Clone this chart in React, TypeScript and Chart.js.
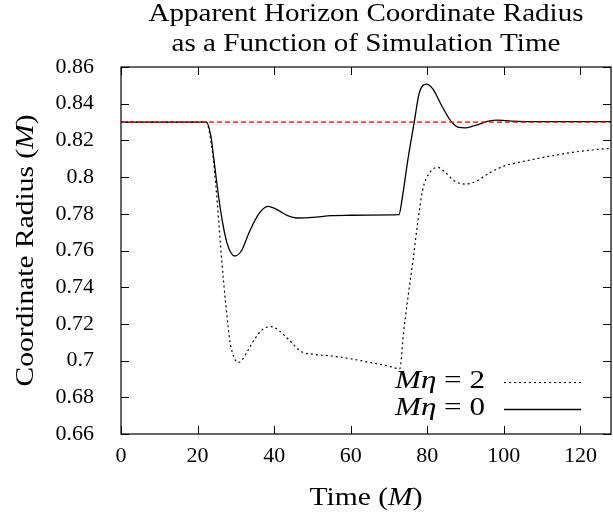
import React, { useEffect, useRef } from "react";
import { Chart, registerables } from "chart.js";

Chart.register(...registerables);

// ---- data ----
const TIME_ETA0 = [0, 22.3, 23.5, 24.3, 26, 27.7, 29.7, 31.5, 33.5, 36, 38.4, 41, 43.5, 46, 50, 55, 60, 65, 72.6, 73.5, 74.9, 76.6, 77.9, 79.8, 81.5, 83.5, 86, 88, 90, 93, 96, 98.5, 102, 110, 120, 128];
const RADIUS_ETA0 = [0.83, 0.83, 0.822, 0.809, 0.782, 0.764, 0.757, 0.76, 0.77, 0.78, 0.784, 0.782, 0.779, 0.7777, 0.778, 0.779, 0.7792, 0.7793, 0.7795, 0.789, 0.809, 0.83, 0.8457, 0.8507, 0.848, 0.84, 0.831, 0.8272, 0.8268, 0.8285, 0.8305, 0.831, 0.8305, 0.8302, 0.8302, 0.8302];

const TIME_ETA2 = [0, 22.3, 23.3, 24.2, 25.2, 26.3, 27.4, 28.5, 29.5, 30.5, 31.5, 33, 35, 37, 39.3, 41.5, 44, 47, 50, 55, 60, 65, 70, 72.8, 73.8, 75, 76.3, 77.5, 78.8, 80.5, 82.7, 84.5, 87, 90, 93, 96, 100, 105, 111, 118, 124, 128];
const RADIUS_ETA2 = [0.83, 0.83, 0.822, 0.808, 0.785, 0.755, 0.73, 0.71, 0.702, 0.699, 0.7, 0.705, 0.712, 0.717, 0.7185, 0.716, 0.711, 0.705, 0.7035, 0.7025, 0.701, 0.699, 0.697, 0.6955, 0.715, 0.735, 0.755, 0.775, 0.793, 0.802, 0.8053, 0.803, 0.798, 0.7962, 0.798, 0.802, 0.806, 0.8085, 0.811, 0.8135, 0.815, 0.8157];

const REFERENCE_RADIUS = 0.83;
const X_MIN = 0;
const X_MAX = 128;
const Y_MIN = 0.66;
const Y_MAX = 0.86;
const X_TICKS = [0, 20, 40, 60, 80, 100, 120];
const Y_TICKS = [0.66, 0.68, 0.7, 0.72, 0.74, 0.76, 0.78, 0.8, 0.82, 0.84, 0.86];
const TITLE_LINES = ["Apparent Horizon Coordinate Radius", "as a Function of Simulation Time"];
const LEGEND_ETA2 = "2";
const LEGEND_ETA0 = "0";

const FAMILY = "'Liberation Serif', 'DejaVu Serif', serif";

type Part = { t: string; i?: boolean };

function measureRich(ctx: CanvasRenderingContext2D, parts: Part[], size: number) {
  return parts.map((p) => {
    ctx.font = `${p.i ? "italic " : ""}${size}px ${FAMILY}`;
    return ctx.measureText(p.t).width;
  });
}

// draws text on an alphabetic baseline; k = horizontal stretch
function drawRich(ctx: CanvasRenderingContext2D, parts: Part[], x: number, y: number, align: string, size: number, k = 1) {
  const widths = measureRich(ctx, parts, size);
  const total = widths.reduce((a, b) => a + b, 0) * k;
  const sx = align === "center" ? x - total / 2 : align === "right" ? x - total : x;
  ctx.save();
  ctx.translate(sx, y);
  ctx.scale(k, 1);
  ctx.textBaseline = "alphabetic";
  ctx.textAlign = "left";
  ctx.fillStyle = "#000";
  let cx = 0;
  parts.forEach((p, j) => {
    ctx.font = `${p.i ? "italic " : ""}${size}px ${FAMILY}`;
    ctx.fillText(p.t, cx, 0);
    cx += widths[j];
  });
  ctx.restore();
}

function stretchFor(ctx: CanvasRenderingContext2D, parts: Part[], size: number, target: number) {
  const w = measureRich(ctx, parts, size).reduce((a, b) => a + b, 0);
  return w > 0 ? target / w : 1;
}

const decorPlugin = {
  id: "decor",
  afterDatasetsDraw(chart: any) {
    const ctx: CanvasRenderingContext2D = chart.ctx;
    const { left, right, top, bottom } = chart.chartArea;
    const xs = chart.scales.x;
    const ys = chart.scales.y;
    ctx.save();
    // frame
    ctx.strokeStyle = "#000";
    ctx.lineWidth = 1.2;
    ctx.setLineDash([]);
    ctx.strokeRect(left, top, right - left, bottom - top);
    // inward ticks on all sides
    const tl = 8;
    ctx.beginPath();
    X_TICKS.forEach((v) => {
      const px = Math.round(xs.getPixelForValue(v)) + 0.5;
      ctx.moveTo(px, bottom);
      ctx.lineTo(px, bottom - tl);
      ctx.moveTo(px, top);
      ctx.lineTo(px, top + tl);
    });
    Y_TICKS.forEach((v) => {
      const py = Math.round(ys.getPixelForValue(v)) + 0.5;
      ctx.moveTo(left, py);
      ctx.lineTo(left + tl, py);
      ctx.moveTo(right, py);
      ctx.lineTo(right - tl, py);
    });
    ctx.lineWidth = 1;
    ctx.stroke();

    // legend
    const textRight = 485;
    const lx0 = 504;
    const lx1 = 581;
    const rows = [
      { base: 388, line: 382.5, label: LEGEND_ETA2, dash: [2, 3] },
      { base: 415, line: 409.5, label: LEGEND_ETA0, dash: [] as number[] },
    ];
    rows.forEach((r) => {
      const parts: Part[] = [{ t: "M", i: true }, { t: "η", i: true }, { t: " = " + r.label }];
      const k = stretchFor(ctx, parts, 25, 90);
      drawRich(ctx, parts, textRight, r.base, "right", 25, k);
      ctx.beginPath();
      ctx.setLineDash(r.dash);
      ctx.strokeStyle = "#000";
      ctx.lineWidth = r.dash.length ? 1.2 : 1.3;
      ctx.moveTo(lx0, r.line);
      ctx.lineTo(lx1, r.line);
      ctx.stroke();
    });
    ctx.setLineDash([]);

    // title
    const cx = (left + right) / 2;
    const t1: Part[] = [{ t: TITLE_LINES[0] }];
    const t2: Part[] = [{ t: TITLE_LINES[1] }];
    const kt = stretchFor(ctx, t1, 26, 435);
    drawRich(ctx, t1, cx, 20.5, "center", 26, kt);
    drawRich(ctx, t2, cx, 50.5, "center", 26, kt);

    // axis titles
    const xt: Part[] = [{ t: "Time (" }, { t: "M", i: true }, { t: ")" }];
    drawRich(ctx, xt, cx, 505, "center", 26, stretchFor(ctx, xt, 26, 113));
    const yt: Part[] = [{ t: "Coordinate Radius (" }, { t: "M", i: true }, { t: ")" }];
    const ky = stretchFor(ctx, yt, 26, 272);
    ctx.translate(33, (top + bottom) / 2);
    ctx.rotate(-Math.PI / 2);
    drawRich(ctx, yt, 0, 0, "center", 26, ky);
    ctx.restore();
  },
};

export default function App() {
  const ref = useRef<HTMLCanvasElement | null>(null);
  useEffect(() => {
    if (!ref.current) return;
    const chart = new Chart(ref.current, {
      type: "line",
      data: {
        datasets: [
          {
            label: "ref",
            data: [
              { x: X_MIN, y: REFERENCE_RADIUS },
              { x: X_MAX, y: REFERENCE_RADIUS },
            ],
            borderColor: "rgb(235,0,0)",
            borderWidth: 1.3,
            borderDash: [5, 3],
            pointRadius: 0,
          },
          {
            label: "eta2",
            data: TIME_ETA2.map((t, i) => ({ x: t, y: RADIUS_ETA2[i] })),
            borderColor: "#000",
            borderWidth: 1.2,
            borderDash: [2, 3],
            pointRadius: 0,
            cubicInterpolationMode: "monotone",
          },
          {
            label: "eta0",
            data: TIME_ETA0.map((t, i) => ({ x: t, y: RADIUS_ETA0[i] })),
            borderColor: "#000",
            borderWidth: 1.3,
            pointRadius: 0,
            cubicInterpolationMode: "monotone",
          },
        ],
      },
      options: {
        animation: false,
        responsive: false,
        maintainAspectRatio: false,
        layout: { padding: { top: 67, right: 2, left: 0, bottom: 0 } },
        plugins: { legend: { display: false }, title: { display: false }, tooltip: { enabled: false } },
        scales: {
          x: {
            type: "linear",
            min: X_MIN,
            max: X_MAX,
            grid: { display: false },
            border: { display: false },
            ticks: { color: "#000", font: { family: FAMILY, size: 22 }, padding: 1, maxRotation: 0 },
            afterBuildTicks: (s: any) => {
              s.ticks = X_TICKS.map((v) => ({ value: v }));
            },
            afterFit: (s: any) => {
              s.height = 516 - 434;
            },
          },
          y: {
            type: "linear",
            min: Y_MIN,
            max: Y_MAX,
            grid: { display: false },
            border: { display: false },
            ticks: {
              color: "#000",
              font: { family: FAMILY, size: 22 },
              padding: 19,
              callback: (v: any) => String(Number(Number(v).toFixed(2))),
            },
            afterBuildTicks: (s: any) => {
              s.ticks = Y_TICKS.map((v) => ({ value: v }));
            },
            afterFit: (s: any) => {
              s.width = 121;
            },
          },
        },
      },
      plugins: [decorPlugin],
    } as any);
    return () => chart.destroy();
  }, []);
  return (
    <div style={{ position: "fixed", left: 0, top: 0, width: 613, height: 516, background: "#fff" }}>
      <canvas ref={ref} width={613} height={516} style={{ display: "block" }} />
    </div>
  );
}
